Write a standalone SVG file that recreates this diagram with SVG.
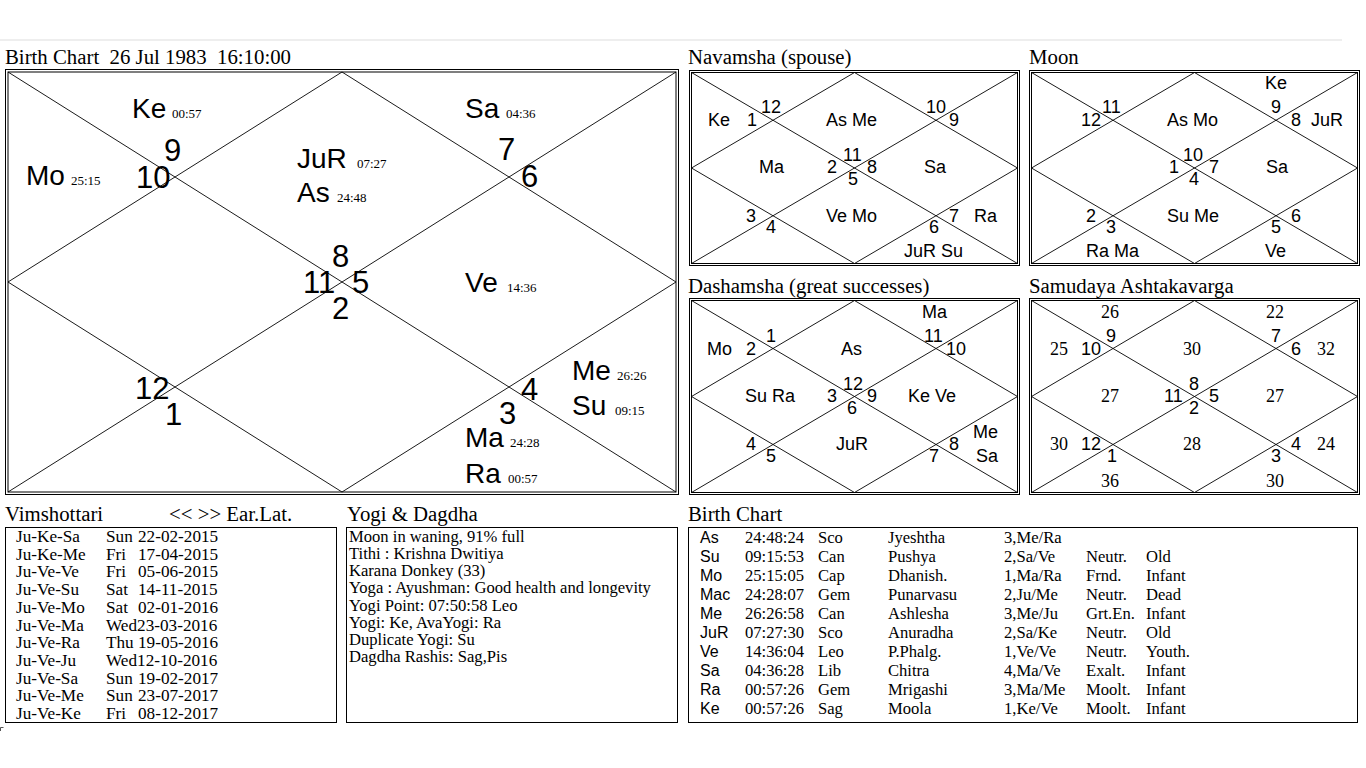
<svg xmlns="http://www.w3.org/2000/svg" width="1366" height="768" viewBox="0 0 1366 768" xml:space="preserve">
<style>
.b{fill:none;stroke:#000;stroke-width:1}
.ln{fill:none;stroke:#000;stroke-width:0.9}
.pl{font-family:"Liberation Sans",Arial,sans-serif;font-size:28px;fill:#000}
.nm{font-family:"Liberation Sans",Arial,sans-serif;font-size:31px;fill:#000}
.dg{font-family:"Liberation Serif","Times New Roman",serif;font-size:13px;fill:#000}
.sm{font-family:"Liberation Sans",Arial,sans-serif;font-size:18px;fill:#000;white-space:pre}
.sv{font-family:"Liberation Serif","Times New Roman",serif;font-size:18px;fill:#000}
.hd{font-family:"Liberation Serif","Times New Roman",serif;font-size:20.8px;fill:#000;white-space:pre}
.tx{font-family:"Liberation Serif","Times New Roman",serif;font-size:16.6px;fill:#000;white-space:pre}
.tv{font-family:"Liberation Serif","Times New Roman",serif;font-size:17.2px;fill:#000;white-space:pre}
.ts{font-family:"Liberation Sans",Arial,sans-serif;font-size:16px;fill:#000}
</style>
<rect width="1366" height="768" fill="#fff"/>
<rect x="0" y="39" width="1342" height="2" fill="#eeeeee"/>

<!-- Main birth chart -->
<g id="main-chart">
<text class="hd" x="5" y="64">Birth Chart  26 Jul 1983  16:10:00</text>
<rect class="b" x="5.5" y="69.5" width="673" height="425"/>
<rect class="b" x="8" y="72" width="668" height="420"/>
<g id="main-lines" class="ln">
<line x1="8" y1="72" x2="676" y2="492"/>
<line x1="676" y1="72" x2="8" y2="492"/>
<polygon points="342,72 676,282 342,492 8,282"/>
</g>
<text class="pl" x="132" y="118">Ke</text><text class="dg" x="172" y="118">00:57</text>
<text class="nm" x="164" y="161">9</text>
<text class="nm" x="136" y="188">10</text>
<text class="pl" x="26" y="185">Mo</text><text class="dg" x="71" y="185">25:15</text>
<text class="pl" x="297" y="168">JuR</text><text class="dg" x="357" y="168">07:27</text>
<text class="pl" x="297" y="202">As</text><text class="dg" x="337" y="202">24:48</text>
<text class="pl" x="465" y="118">Sa</text><text class="dg" x="506" y="118">04:36</text>
<text class="nm" x="498" y="160">7</text>
<text class="nm" x="521" y="187">6</text>
<text class="nm" x="332" y="267">8</text>
<text class="nm" x="303" y="293">11</text>
<text class="nm" x="352" y="293">5</text>
<text class="nm" x="332" y="319">2</text>
<text class="pl" x="465" y="292">Ve</text><text class="dg" x="507" y="292">14:36</text>
<text class="pl" x="572" y="380">Me</text><text class="dg" x="617" y="380">26:26</text>
<text class="pl" x="572" y="415">Su</text><text class="dg" x="615" y="415">09:15</text>
<text class="nm" x="521" y="400">4</text>
<text class="nm" x="499" y="424">3</text>
<text class="pl" x="465" y="447">Ma</text><text class="dg" x="510" y="447">24:28</text>
<text class="pl" x="465" y="483">Ra</text><text class="dg" x="508" y="483">00:57</text>
<text class="nm" x="135" y="399">12</text>
<text class="nm" x="165" y="425">1</text>
</g>

<!-- Navamsha -->
<g id="navamsha">
<text class="hd" x="688" y="64">Navamsha (spouse)</text>
<rect class="b" x="689.5" y="70.5" width="330" height="195"/>
<rect class="b" x="691.5" y="72.5" width="326" height="191"/>
<g class="ln">
<line x1="691.5" y1="72.5" x2="1017.5" y2="263.5"/>
<line x1="1017.5" y1="72.5" x2="691.5" y2="263.5"/>
<polygon points="854.5,72.5 1017.5,168 854.5,263.5 691.5,168"/>
</g>
<text class="sm" x="708" y="126">Ke</text>
<text class="sm" x="747" y="126">1</text>
<text class="sm" x="761" y="113">12</text>
<text class="sm" x="826" y="126">As Me</text>
<text class="sm" x="926" y="113">10</text>
<text class="sm" x="949" y="126">9</text>
<text class="sm" x="759" y="173">Ma</text>
<text class="sm" x="827" y="173">2</text>
<text class="sm" x="843" y="161">11</text>
<text class="sm" x="867" y="173">8</text>
<text class="sm" x="848" y="185">5</text>
<text class="sm" x="924" y="173">Sa</text>
<text class="sm" x="746" y="222">3</text>
<text class="sm" x="766" y="233">4</text>
<text class="sm" x="826" y="222">Ve Mo</text>
<text class="sm" x="929" y="233">6</text>
<text class="sm" x="949" y="222">7</text>
<text class="sm" x="974" y="222">Ra</text>
<text class="sm" x="904" y="257">JuR Su</text>
</g>

<!-- Moon -->
<g id="moon">
<text class="hd" x="1029" y="64">Moon</text>
<rect class="b" x="1029.5" y="70.5" width="330" height="195"/>
<rect class="b" x="1031.5" y="72.5" width="326" height="191"/>
<g class="ln">
<line x1="1031.5" y1="72.5" x2="1357.5" y2="263.5"/>
<line x1="1357.5" y1="72.5" x2="1031.5" y2="263.5"/>
<polygon points="1194.5,72.5 1357.5,168 1194.5,263.5 1031.5,168"/>
</g>
<text class="sm" x="1265" y="89">Ke</text>
<text class="sm" x="1102" y="113">11</text>
<text class="sm" x="1081" y="126">12</text>
<text class="sm" x="1167" y="126">As Mo</text>
<text class="sm" x="1271" y="113">9</text>
<text class="sm" x="1291" y="126">8</text>
<text class="sm" x="1311" y="126">JuR</text>
<text class="sm" x="1183" y="161">10</text>
<text class="sm" x="1169" y="173">1</text>
<text class="sm" x="1209" y="173">7</text>
<text class="sm" x="1189" y="185">4</text>
<text class="sm" x="1266" y="173">Sa</text>
<text class="sm" x="1086" y="222">2</text>
<text class="sm" x="1106" y="233">3</text>
<text class="sm" x="1167" y="222">Su Me</text>
<text class="sm" x="1291" y="222">6</text>
<text class="sm" x="1271" y="233">5</text>
<text class="sm" x="1086" y="257">Ra Ma</text>
<text class="sm" x="1265" y="257">Ve</text>
</g>

<!-- Dashamsha -->
<g id="dashamsha">
<text class="hd" x="688" y="293">Dashamsha (great successes)</text>
<rect class="b" x="689.5" y="298.5" width="330" height="196"/>
<rect class="b" x="691.5" y="300.5" width="326" height="192"/>
<g class="ln">
<line x1="691.5" y1="300.5" x2="1017.5" y2="492.5"/>
<line x1="1017.5" y1="300.5" x2="691.5" y2="492.5"/>
<polygon points="854.5,300.5 1017.5,396.5 854.5,492.5 691.5,396.5"/>
</g>
<text class="sm" x="922" y="318">Ma</text>
<text class="sm" x="766" y="342">1</text>
<text class="sm" x="707" y="355">Mo</text>
<text class="sm" x="746" y="355">2</text>
<text class="sm" x="841" y="355">As</text>
<text class="sm" x="924" y="342">11</text>
<text class="sm" x="946" y="355">10</text>
<text class="sm" x="745" y="402">Su Ra</text>
<text class="sm" x="827" y="402">3</text>
<text class="sm" x="843" y="390">12</text>
<text class="sm" x="867" y="402">9</text>
<text class="sm" x="847" y="414">6</text>
<text class="sm" x="908" y="402">Ke Ve</text>
<text class="sm" x="746" y="450">4</text>
<text class="sm" x="766" y="462">5</text>
<text class="sm" x="836" y="450">JuR</text>
<text class="sm" x="929" y="462">7</text>
<text class="sm" x="949" y="450">8</text>
<text class="sm" x="973" y="438">Me</text>
<text class="sm" x="976" y="462">Sa</text>
</g>

<!-- Samudaya Ashtakavarga -->
<g id="samudaya">
<text class="hd" x="1029" y="293">Samudaya Ashtakavarga</text>
<rect class="b" x="1029.5" y="298.5" width="330" height="196"/>
<rect class="b" x="1031.5" y="300.5" width="326" height="192"/>
<g class="ln">
<line x1="1031.5" y1="300.5" x2="1357.5" y2="492.5"/>
<line x1="1357.5" y1="300.5" x2="1031.5" y2="492.5"/>
<polygon points="1194.5,300.5 1357.5,396.5 1194.5,492.5 1031.5,396.5"/>
</g>
<text class="sv" x="1101" y="318">26</text>
<text class="sv" x="1266" y="318">22</text>
<text class="sm" x="1106" y="342">9</text>
<text class="sv" x="1050" y="355">25</text>
<text class="sm" x="1081" y="355">10</text>
<text class="sv" x="1183" y="355">30</text>
<text class="sm" x="1271" y="342">7</text>
<text class="sm" x="1291" y="355">6</text>
<text class="sv" x="1317" y="355">32</text>
<text class="sv" x="1101" y="402">27</text>
<text class="sm" x="1164" y="402">11</text>
<text class="sm" x="1189" y="390">8</text>
<text class="sm" x="1209" y="402">5</text>
<text class="sm" x="1189" y="414">2</text>
<text class="sv" x="1266" y="402">27</text>
<text class="sv" x="1050" y="450">30</text>
<text class="sm" x="1081" y="450">12</text>
<text class="sm" x="1107" y="462">1</text>
<text class="sv" x="1183" y="450">28</text>
<text class="sm" x="1291" y="450">4</text>
<text class="sm" x="1271" y="462">3</text>
<text class="sv" x="1317" y="450">24</text>
<text class="sv" x="1101" y="487">36</text>
<text class="sv" x="1266" y="487">30</text>
</g>

<!-- Vimshottari -->
<g id="vimshottari">
<text class="hd" x="5" y="521">Vimshottari</text>
<text class="hd" x="169" y="521">&lt;&lt; &gt;&gt; Ear.Lat.</text>
<rect class="b" x="5.5" y="527.5" width="331" height="195"/>
<g class="tv">
<text x="16" y="542">Ju-Ke-Sa</text><text x="106" y="542">Sun</text><text x="138" y="542">22-02-2015</text>
<text x="16" y="559.7">Ju-Ke-Me</text><text x="106" y="559.7">Fri</text><text x="138" y="559.7">17-04-2015</text>
<text x="16" y="577.4">Ju-Ve-Ve</text><text x="106" y="577.4">Fri</text><text x="138" y="577.4">05-06-2015</text>
<text x="16" y="595.1">Ju-Ve-Su</text><text x="106" y="595.1">Sat</text><text x="138" y="595.1">14-11-2015</text>
<text x="16" y="612.8">Ju-Ve-Mo</text><text x="106" y="612.8">Sat</text><text x="138" y="612.8">02-01-2016</text>
<text x="16" y="630.5">Ju-Ve-Ma</text><text x="106" y="630.5">Wed23-03-2016</text>
<text x="16" y="648.2">Ju-Ve-Ra</text><text x="106" y="648.2">Thu</text><text x="138" y="648.2">19-05-2016</text>
<text x="16" y="665.9">Ju-Ve-Ju</text><text x="106" y="665.9">Wed12-10-2016</text>
<text x="16" y="683.6">Ju-Ve-Sa</text><text x="106" y="683.6">Sun</text><text x="138" y="683.6">19-02-2017</text>
<text x="16" y="701.3">Ju-Ve-Me</text><text x="106" y="701.3">Sun</text><text x="138" y="701.3">23-07-2017</text>
<text x="16" y="719">Ju-Ve-Ke</text><text x="106" y="719">Fri</text><text x="138" y="719">08-12-2017</text>
</g>
</g>
<path d="M0.5 727.5 H3.5 M0.5 727.5 V731" stroke="#555" stroke-width="1" fill="none"/>

<!-- Yogi & Dagdha -->
<g id="yogi-dagdha">
<text class="hd" x="347" y="521">Yogi &amp; Dagdha</text>
<rect class="b" x="346.5" y="527.5" width="331" height="195"/>
<g class="tx">
<text x="349" y="542">Moon in waning, 91% full</text>
<text x="349" y="559">Tithi : Krishna  Dwitiya</text>
<text x="349" y="576">Karana Donkey (33)</text>
<text x="349" y="593">Yoga : Ayushman: Good health and longevity</text>
<text x="349" y="611">Yogi Point: 07:50:58 Leo</text>
<text x="349" y="628">Yogi: Ke, AvaYogi: Ra</text>
<text x="349" y="645">Duplicate Yogi: Su</text>
<text x="349" y="662">Dagdha Rashis: Sag,Pis</text>
</g>
</g>

<!-- Birth Chart table -->
<g id="birth-table">
<text class="hd" x="688" y="521">Birth Chart</text>
<rect class="b" x="688.5" y="527.5" width="669" height="195"/>
<g class="ts">
<text x="700" y="543">As</text>
<text x="700" y="562">Su</text>
<text x="700" y="581">Mo</text>
<text x="700" y="600">Mac</text>
<text x="700" y="619">Me</text>
<text x="700" y="638">JuR</text>
<text x="700" y="657">Ve</text>
<text x="700" y="676">Sa</text>
<text x="700" y="695">Ra</text>
<text x="700" y="714">Ke</text>
</g>
<g class="tx">
<text x="745" y="543">24:48:24</text><text x="818" y="543">Sco</text><text x="888" y="543">Jyeshtha</text><text x="1004" y="543">3,Me/Ra</text>
<text x="745" y="562">09:15:53</text><text x="818" y="562">Can</text><text x="888" y="562">Pushya</text><text x="1004" y="562">2,Sa/Ve</text><text x="1086" y="562">Neutr.</text><text x="1146" y="562">Old</text>
<text x="745" y="581">25:15:05</text><text x="818" y="581">Cap</text><text x="888" y="581">Dhanish.</text><text x="1004" y="581">1,Ma/Ra</text><text x="1086" y="581">Frnd.</text><text x="1146" y="581">Infant</text>
<text x="745" y="600">24:28:07</text><text x="818" y="600">Gem</text><text x="888" y="600">Punarvasu</text><text x="1004" y="600">2,Ju/Me</text><text x="1086" y="600">Neutr.</text><text x="1146" y="600">Dead</text>
<text x="745" y="619">26:26:58</text><text x="818" y="619">Can</text><text x="888" y="619">Ashlesha</text><text x="1004" y="619">3,Me/Ju</text><text x="1086" y="619">Grt.En.</text><text x="1146" y="619">Infant</text>
<text x="745" y="638">07:27:30</text><text x="818" y="638">Sco</text><text x="888" y="638">Anuradha</text><text x="1004" y="638">2,Sa/Ke</text><text x="1086" y="638">Neutr.</text><text x="1146" y="638">Old</text>
<text x="745" y="657">14:36:04</text><text x="818" y="657">Leo</text><text x="888" y="657">P.Phalg.</text><text x="1004" y="657">1,Ve/Ve</text><text x="1086" y="657">Neutr.</text><text x="1146" y="657">Youth.</text>
<text x="745" y="676">04:36:28</text><text x="818" y="676">Lib</text><text x="888" y="676">Chitra</text><text x="1004" y="676">4,Ma/Ve</text><text x="1086" y="676">Exalt.</text><text x="1146" y="676">Infant</text>
<text x="745" y="695">00:57:26</text><text x="818" y="695">Gem</text><text x="888" y="695">Mrigashi</text><text x="1004" y="695">3,Ma/Me</text><text x="1086" y="695">Moolt.</text><text x="1146" y="695">Infant</text>
<text x="745" y="714">00:57:26</text><text x="818" y="714">Sag</text><text x="888" y="714">Moola</text><text x="1004" y="714">1,Ke/Ve</text><text x="1086" y="714">Moolt.</text><text x="1146" y="714">Infant</text>
</g>
</g>
</svg>
